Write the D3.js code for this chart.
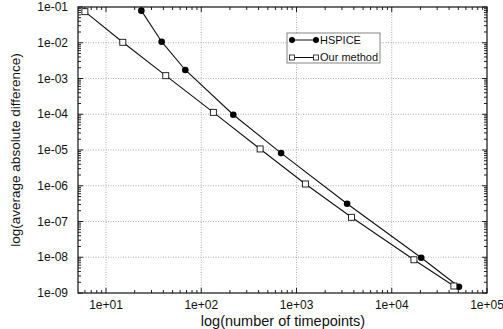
<!DOCTYPE html>
<html>
<head>
<meta charset="utf-8">
<script src="https://cdn.jsdelivr.net/npm/d3@7"></script>
<style>
  body { margin: 0; background: #fff; }
  svg { font-family: "Liberation Sans", Arial, sans-serif; }
</style>
</head>
<body>
<svg id="chart" width="503" height="329"></svg>
<script>
// Data
const hspiceX = [23.5, 38.4, 68, 217, 689, 3400, 20400, 50700];
const hspiceY = [0.079, 0.0107, 0.00173, 9.7e-5, 8.2e-6, 3.15e-7, 9.7e-9, 1.5e-9];
const oursX = [6.0, 15, 42.4, 134, 415, 1240, 3780, 17100, 44900];
const oursY = [0.074, 0.0103, 0.0012, 1.13e-4, 1.07e-5, 1.12e-6, 1.31e-7, 8.5e-9, 1.57e-9];
const xTicks = [1e1, 1e2, 1e3, 1e4, 1e5];
const yTicks = [1e-1, 1e-2, 1e-3, 1e-4, 1e-5, 1e-6, 1e-7, 1e-8, 1e-9];
const seriesNames = ["HSPICE", "Our method"];

const svg = d3.select("#chart");
const margin = { top: 7, right: 16, bottom: 36, left: 78 };
const width = 503 - margin.left - margin.right;
const height = 329 - margin.top - margin.bottom;

const g = svg.append("g").attr("transform", `translate(${margin.left},${margin.top})`);

const x = d3.scaleLog().domain([5.08, 1e5]).range([0, width]);
const y = d3.scaleLog().domain([1e-9, 1e-1]).range([height, 0]);

// minor ticks 2..9 per decade
const minorX = [];
for (let e = 0; e < 5; e++) for (let k = 2; k <= 9; k++) {
  const v = k * Math.pow(10, e);
  if (v >= 5.08 && v <= 1e5) minorX.push(v);
}
const minorY = [];
for (let e = -9; e < -1; e++) for (let k = 2; k <= 9; k++) minorY.push(k * Math.pow(10, e));

// grid
g.selectAll(".gx").data(xTicks.slice(0, -1)).enter().append("line")
  .attr("x1", d => x(d)).attr("x2", d => x(d)).attr("y1", 0).attr("y2", height)
  .attr("stroke", "#999").attr("stroke-width", 0.8).attr("stroke-dasharray", "1,1.5");
g.selectAll(".gy").data(yTicks.slice(1, -1)).enter().append("line")
  .attr("x1", 0).attr("x2", width).attr("y1", d => y(d)).attr("y2", d => y(d))
  .attr("stroke", "#999").attr("stroke-width", 0.8).attr("stroke-dasharray", "1,1.5");

// inward ticks on all four sides
const tick = (vals, len, orient) => {
  vals.forEach(v => {
    if (orient === "x") {
      g.append("line").attr("x1", x(v)).attr("x2", x(v)).attr("y1", height).attr("y2", height - len).attr("stroke", "#222");
      g.append("line").attr("x1", x(v)).attr("x2", x(v)).attr("y1", 0).attr("y2", len).attr("stroke", "#222");
    } else {
      g.append("line").attr("y1", y(v)).attr("y2", y(v)).attr("x1", 0).attr("x2", len).attr("stroke", "#222");
      g.append("line").attr("y1", y(v)).attr("y2", y(v)).attr("x1", width).attr("x2", width - len).attr("stroke", "#222");
    }
  });
};
tick(minorX, 3, "x");
tick(xTicks, 5, "x");
tick(minorY, 3, "y");
tick(yTicks, 5, "y");

// frame
g.append("rect").attr("width", width).attr("height", height)
  .attr("fill", "none").attr("stroke", "#111").attr("stroke-width", 1.2);

// tick labels
g.selectAll(".xl").data(xTicks).enter().append("text")
  .attr("x", d => x(d)).attr("y", height + 16)
  .attr("text-anchor", "middle").attr("font-size", 12).attr("fill", "#111")
  .text(d => "1e+" + String(Math.round(Math.log10(d))).padStart(2, "0"));
g.selectAll(".yl").data(yTicks).enter().append("text")
  .attr("x", -10).attr("y", d => y(d)).attr("dy", "0.35em")
  .attr("text-anchor", "end").attr("font-size", 12).attr("fill", "#111")
  .text(d => "1e-" + String(Math.round(-Math.log10(d))).padStart(2, "0"));

// axis labels
svg.append("text").attr("x", 283).attr("y", 326).attr("text-anchor", "middle")
  .attr("font-size", 14.5).attr("fill", "#111").text("log(number of timepoints)");
svg.append("text").attr("transform", "rotate(-90)").attr("x", -150).attr("y", 20)
  .attr("text-anchor", "middle").attr("font-size", 13.5).attr("fill", "#111")
  .text("log(average absolute difference)");

// series
const line = d3.line().x(d => x(d[0])).y(d => y(d[1]));
const hspice = hspiceX.map((v, i) => [v, hspiceY[i]]);
const ours = oursX.map((v, i) => [v, oursY[i]]);

g.append("path").datum(hspice).attr("d", line).attr("fill", "none").attr("stroke", "#111").attr("stroke-width", 1.1);
g.append("path").datum(ours).attr("d", line).attr("fill", "none").attr("stroke", "#111").attr("stroke-width", 1.1);

g.selectAll(".hp").data(hspice).enter().append("circle")
  .attr("cx", d => x(d[0])).attr("cy", d => y(d[1])).attr("r", 3.3).attr("fill", "#000");
g.selectAll(".op").data(ours).enter().append("rect")
  .attr("x", d => x(d[0]) - 3).attr("y", d => y(d[1]) - 3).attr("width", 6).attr("height", 6)
  .attr("fill", "#fff").attr("stroke", "#111").attr("stroke-width", 0.9);

// legend
const lg = svg.append("g").attr("transform", "translate(287,33)");
lg.append("rect").attr("width", 93).attr("height", 30).attr("fill", "#fff")
  .attr("stroke", "#666").attr("stroke-width", 0.8);
seriesNames.forEach((name, i) => {
  const ly = 7 + i * 17.5;
  lg.append("line").attr("x1", 5).attr("x2", 29).attr("y1", ly).attr("y2", ly).attr("stroke", "#111");
  if (i === 0) {
    [5, 29].forEach(cx => lg.append("circle").attr("cx", cx).attr("cy", ly).attr("r", 3).attr("fill", "#000"));
  } else {
    [5, 29].forEach(cx => lg.append("rect").attr("x", cx - 2.5).attr("y", ly - 2.5).attr("width", 5).attr("height", 5)
      .attr("fill", "#fff").attr("stroke", "#111").attr("stroke-width", 0.8));
  }
  lg.append("text").attr("x", 33).attr("y", ly).attr("dy", "0.35em")
    .attr("font-size", 11).attr("fill", "#111").text(name);
});
</script>
</body>
</html>
